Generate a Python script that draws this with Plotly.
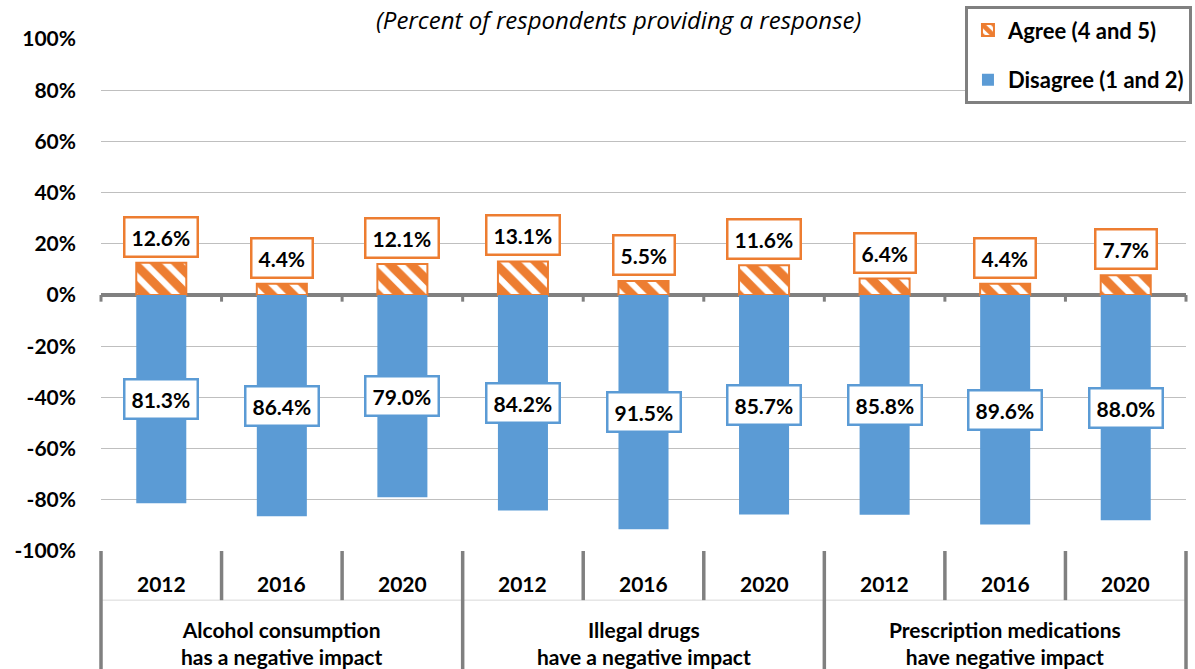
import plotly.graph_objects as go

# Survey results by topic and year
groups = [
    "Alcohol consumption<br>has a negative impact",
    "Illegal drugs<br>have a negative impact",
    "Prescription medications<br>have negative impact",
]
years = ["2012", "2016", "2020"]
agree = [12.6, 4.4, 12.1, 13.1, 5.5, 11.6, 6.4, 4.4, 7.7]
disagree = [81.3, 86.4, 79.0, 84.2, 91.5, 85.7, 85.8, 89.6, 88.0]
y_tick_vals = [-100, -80, -60, -40, -20, 0, 20, 40, 60, 80, 100]
y_tick_text = [f"<b>{v}%</b>" for v in y_tick_vals]

FONT = "Lato"
ORANGE = "#ED7D31"
BLUE = "#5B9BD5"
GRAY = "#808080"
GRID = "#BFBFBF"

n = len(agree)
pos = list(range(n))
n_years = len(years)

fig = go.Figure()
fig.add_trace(go.Bar(
    x=pos, y=agree, name="<b>Agree (4 and 5)</b>", width=0.415,
    marker=dict(color="white", line=dict(color=ORANGE, width=2),
                pattern=dict(shape="\\", fgcolor=ORANGE, bgcolor="white",
                             fgopacity=1, size=15, solidity=0.6)),
    legendgroup="a",
))
fig.add_trace(go.Bar(
    x=pos, y=[-v for v in disagree], name="<b>Disagree (1 and 2)</b>", width=0.415,
    marker=dict(color=BLUE, line=dict(width=0)),
    legendgroup="d",
))

annotations = []
label_font = dict(family=FONT, size=21, color="black")
for i in range(n):
    annotations.append(dict(
        x=pos[i], y=agree[i], xref="x", yref="y", yshift=26,
        xanchor="center", yanchor="middle",
        text=f"<b>{agree[i]:.1f}%</b>", showarrow=False, font=label_font,
        bgcolor="white", bordercolor=ORANGE, borderwidth=2.5, borderpad=6,
    ))
    annotations.append(dict(
        x=pos[i], y=-disagree[i] / 2, xref="x", yref="y",
        xanchor="center", yanchor="middle",
        text=f"<b>{disagree[i]:.1f}%</b>", showarrow=False, font=label_font,
        bgcolor="white", bordercolor=BLUE, borderwidth=2.5, borderpad=6,
    ))

# Title line
annotations.append(dict(
    x=0.4765, y=1.039, xref="paper", yref="paper",
    xanchor="center", yanchor="middle",
    text="<i>(Percent of respondents providing a response)</i>",
    showarrow=False, font=dict(family="Open Sans", size=24, color="black"),
))

# Category table under the plot
shapes = []
for i in range(n):
    annotations.append(dict(
        x=(i + 0.5) / n, y=-0.0625, xref="paper", yref="paper",
        xanchor="center", yanchor="middle",
        text=f"<b>{years[i % n_years]}</b>", showarrow=False,
        font=dict(family=FONT, size=21, color="black"),
    ))
for g, name in enumerate(groups):
    annotations.append(dict(
        x=(g * n_years + n_years / 2) / n, y=-0.179, xref="paper", yref="paper",
        xanchor="center", yanchor="middle",
        text=f"<b>{name}</b>", showarrow=False,
        font=dict(family=FONT, size=21, color="black"),
    ))

for b in range(n + 1):
    xp = b / n
    is_group = b % n_years == 0
    shapes.append(dict(
        type="line", xref="paper", yref="paper", x0=xp, x1=xp,
        y0=0, y1=-0.26 if is_group else -0.096,
        line=dict(color=GRAY, width=3.5), layer="above",
    ))
    # small ticks below the zero line
    shapes.append(dict(
        type="line", xref="paper", yref="y", x0=xp, x1=xp, y0=0, y1=-2.6,
        line=dict(color=GRAY, width=3), layer="above",
    ))
shapes.append(dict(
    type="line", xref="paper", yref="paper", x0=0, x1=1, y0=-0.096, y1=-0.096,
    line=dict(color="#D9D9D9", width=1), layer="below",
))

fig.update_layout(
    width=1195, height=669,
    margin=dict(l=101, r=9, t=39, b=118, autoexpand=False),
    paper_bgcolor="white", plot_bgcolor="white",
    barmode="relative",
    font=dict(family=FONT, size=20, color="black"),
    xaxis=dict(range=[-0.5, n - 0.5], showticklabels=False, showgrid=False,
               zeroline=False, ticks=""),
    yaxis=dict(range=[-100, 100], tickvals=y_tick_vals, ticktext=y_tick_text,
               tickfont=dict(family=FONT, size=21, color="black"),
               showgrid=True, gridcolor=GRID, gridwidth=1.3,
               zeroline=True, zerolinecolor=GRAY, zerolinewidth=3.5,
               ticks="", ticklabelstandoff=24),
    legend=dict(x=1.0055, y=1.064, xanchor="right", yanchor="top",
                bgcolor="white", bordercolor=GRAY, borderwidth=3,
                font=dict(family=FONT, size=22, color="black"),
                traceorder="grouped", tracegroupgap=18, itemwidth=30),
    annotations=annotations,
    shapes=shapes,
    showlegend=True,
)

fig.write_html("out.html")
